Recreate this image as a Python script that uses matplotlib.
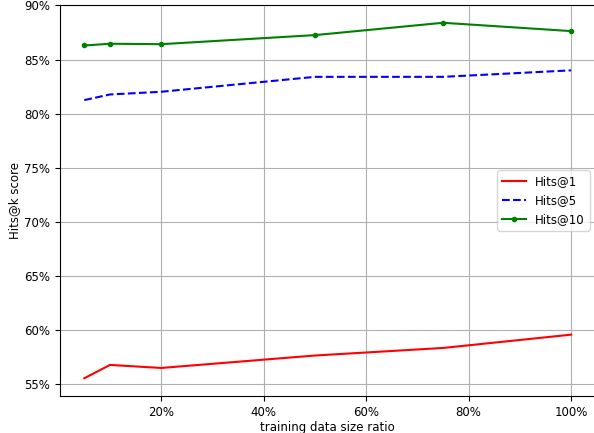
import matplotlib
matplotlib.use("Agg")
import matplotlib.pyplot as plt
from matplotlib.ticker import PercentFormatter

plt.rcParams['font.size'] = 8.5

ratios = [0.05, 0.10, 0.20, 0.50, 0.75, 1.00]
hits1 = [0.5553, 0.5676, 0.5648, 0.5763, 0.5833, 0.5956]
hits5 = [0.8125, 0.8177, 0.8202, 0.8340, 0.8340, 0.8400]
hits10 = [0.8630, 0.8646, 0.8642, 0.8726, 0.8840, 0.8763]

fig = plt.figure(figsize=(5.94, 4.33), dpi=100)
ax = fig.add_axes([60 / 594, 1 - 396 / 433, 535.5 / 594, 391 / 433])

ax.plot(ratios, hits1, color='red', linestyle='-', label='Hits@1')
ax.plot(ratios, hits5, color='blue', linestyle='--', label='Hits@5')
ax.plot(ratios, hits10, color='green', linestyle='-', marker='.', label='Hits@10')

ax.xaxis.set_major_formatter(PercentFormatter(xmax=1, decimals=0))
ax.yaxis.set_major_formatter(PercentFormatter(xmax=1, decimals=0))
ax.grid(True)
ax.set_xlabel('training data size ratio', labelpad=1.5)
ax.set_ylabel('Hits@k score', labelpad=2.5)
ax.legend(loc='center right')

fig.savefig('out.png', dpi=100)
